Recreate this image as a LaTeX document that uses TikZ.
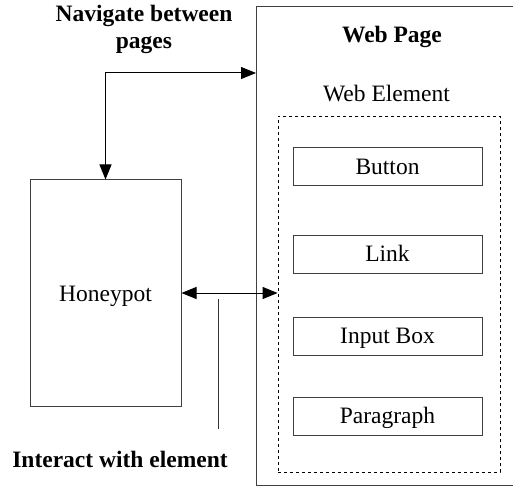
\documentclass[tikz,border=0pt]{standalone}
\usepackage{fontspec}
\setmainfont{Liberation Serif}
\usetikzlibrary{arrows.meta,calc}
\tikzset{
  lbl/.style={font=\fontsize{23.5pt}{27pt}\selectfont, inner sep=0pt, anchor=base},
  boldlbl/.style={lbl, font=\fontsize{23.5pt}{27pt}\selectfont\bfseries},
  frame/.style={draw=black!75, line width=1pt},
  elem/.style={frame, rectangle, minimum width=189pt, minimum height=38pt, inner sep=0pt},
  biarr/.style={line width=1pt, {Triangle[length=15pt,width=12pt]}-{Triangle[length=15pt,width=12pt]}}
}
\begin{document}
\begin{tikzpicture}[x=1pt,y=-1pt]
  \clip (0,0) rectangle (513,486);
  \fill[white] (0,0) rectangle (513,486);

  % web page container (runs off the right edge)
  \draw[frame] (530,7) -- (256,7) -- (256,485) -- (530,485);
  \coordinate (wpw) at (256,73);
  \node[boldlbl] (wptitle) at (392,43) {Web Page};
  \node[lbl] (wetitle) at (386.5,102) {Web Element};

  % dashed group of web elements
  \node[draw=black, dashed, line width=0.8pt, rectangle, minimum width=222pt, minimum height=356pt, inner sep=0pt] (we) at (389,294) {};

  \node[elem] (button) at (387.5,167) {};
  \node[lbl] at (387.5,175) {Button};
  \node[elem] (link) at (387.5,254) {};
  \node[lbl] at (387.5,261) {Link};
  \node[elem] (input) at (387.5,336.5) {};
  \node[lbl] at (387.5,343) {Input Box};
  \node[elem] (para) at (387.5,416) {};
  \node[lbl] at (387.5,423) {Paragraph};

  % honeypot
  \node[frame, rectangle, minimum width=151pt, minimum height=226pt, inner sep=0pt] (hp) at (105.5,293) {};
  \node[lbl] at (105.5,301) {Honeypot};

  % connectors
  \draw[biarr] (hp.north) |- (wpw);
  \draw[biarr] (hp.east) -- (hp.east -| we.west);

  \coordinate (tickTop) at (218,299);
  \coordinate (tickBot) at (218,429);
  \draw[line width=1pt, black!80] (tickTop) -- (tickBot);

  % captions
  \node[boldlbl] (nav1) at (144,22) {Navigate between};
  \node[boldlbl] (nav2) at (144,49) {pages};
  \node[boldlbl] (inter) at (120,467) {Interact with element};
\end{tikzpicture}
\end{document}
